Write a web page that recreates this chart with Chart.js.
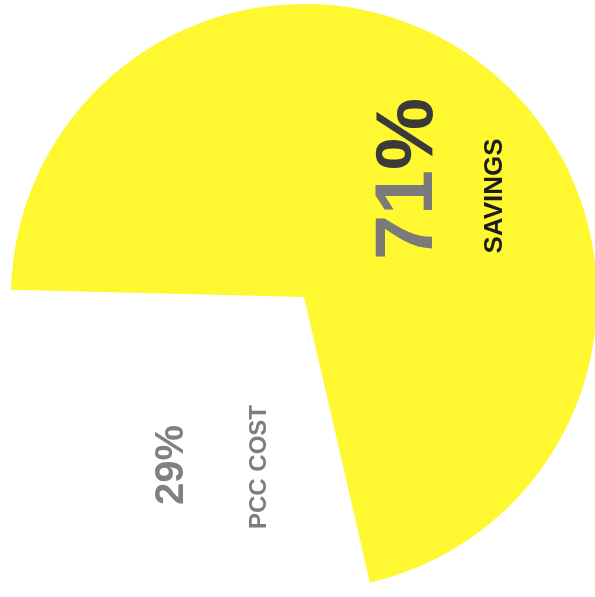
<!DOCTYPE html>
<html>
<head>
<meta charset="utf-8">
<script src="https://cdn.jsdelivr.net/npm/chart.js@4/dist/chart.umd.min.js"></script>
<style>
html,body{margin:0;padding:0;background:#fff;overflow:hidden;}
#wrap{width:600px;height:600px;position:relative;}
</style>
</head>
<body>
<div id="wrap"><canvas id="pie"></canvas></div>
<script>
// data
const labels = ['PCC COST', 'SAVINGS'];
const values = [29, 71];
const sliceColors = ['#ffffff', '#fff730'];

/* rotated labels, placed relative to the pie centre */
const labelPlugin = {
id: 'rotLabels',
afterDatasetsDraw(chart, args, opts){
const ctx = chart.ctx;
const arc = chart.getDatasetMeta(0).data[0];
const cx = arc.x, cy = arc.y;
opts.items.forEach(function(it){
ctx.save();
ctx.translate(cx + it.dx, cy + it.dy);
ctx.rotate(-Math.PI/2);
ctx.textBaseline = 'alphabetic';
ctx.textAlign = 'left';
ctx.font = it.font;
let total = 0;
it.parts.forEach(p => total += ctx.measureText(p.text).width);
let x = -total/2;
it.parts.forEach(function(p){
ctx.fillStyle = p.color;
ctx.fillText(p.text, x, 0);
x += ctx.measureText(p.text).width;
});
ctx.restore();
});
}
};

const total = values.reduce((a,b)=>a+b,0);
const pct = values.map(v => Math.round(v/total*100) + '');

new Chart(document.getElementById('pie'),{
type:'pie',
data:{
labels: labels,
datasets:[{
data: values,
backgroundColor: sliceColors,
borderWidth: 0
}]
},
options:{
responsive:true,
maintainAspectRatio:false,
animation:false,
events:[],
rotation:167,
layout:{padding:{left:11,top:4,right:3,bottom:10}},
plugins:{
legend:{display:false},
tooltip:{enabled:false},
rotLabels:{
items:[
{dx:128, dy:-118, font:'bold 81px "Liberation Sans", Arial, sans-serif',
 parts:[{text:pct[1], color:'#7a7a7a'},{text:'%', color:'#3a3a3a'}]},
{dx:198, dy:-101, font:'bold 26px "Liberation Sans", Arial, sans-serif',
 parts:[{text:labels[1], color:'#1c1c1c'}]},
{dx:-121, dy:168, font:'bold 40px "Liberation Sans", Arial, sans-serif',
 parts:[{text:pct[0] + '%', color:'#808080'}]},
{dx:-38, dy:170, font:'bold 24px "Liberation Sans", Arial, sans-serif',
 parts:[{text:labels[0], color:'#7d7d7d'}]}
]
}
}
},
plugins:[labelPlugin]
});
</script>
</body>
</html>
